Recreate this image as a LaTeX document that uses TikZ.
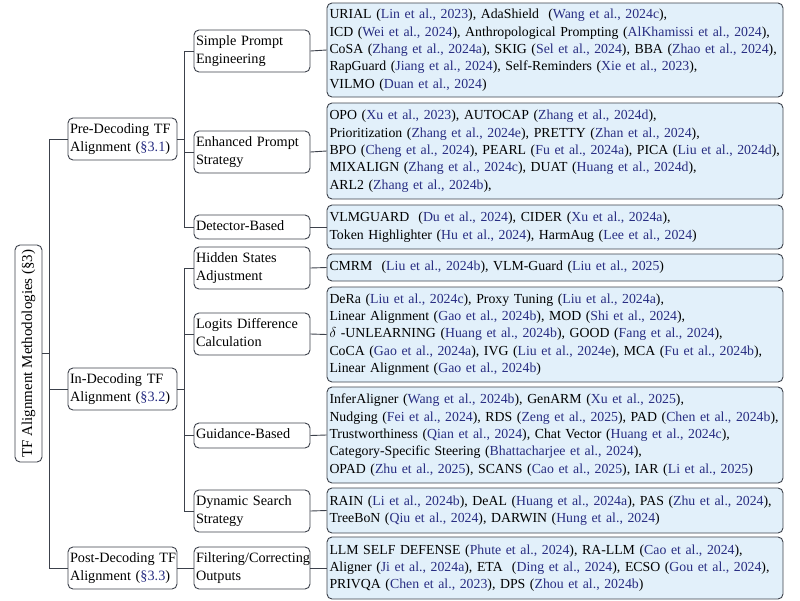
\documentclass[tikz,border=0pt]{standalone}
\usepackage{fontspec}
\setmainfont{Liberation Serif}
\definecolor{citeblue}{RGB}{40,45,130}
\definecolor{leaffill}{RGB}{226,240,250}
\definecolor{edgegray}{RGB}{60,65,75}
\newcommand{\ct}[1]{\textcolor{citeblue}{#1}}
\newcommand{\rows}[1]{\begin{tabular}{@{}l@{}}#1\end{tabular}}
\begin{document}
\begin{tikzpicture}[x=1pt,y=-1pt,
  base/.style={draw=edgegray, line width=0.9pt, rounded corners=5pt, inner xsep=3pt, inner ysep=0pt, font=\fontsize{14.25}{17.3}\selectfont, align=left},
  rootbox/.style={base, fill=white, rotate=90, minimum width=217pt, minimum height=27pt, align=center, font=\fontsize{15}{18}\selectfont},
  lvone/.style={base, fill=white, inner xsep=2pt, text width=105pt, minimum height=42pt},
  lvtwo/.style={base, fill=white, inner xsep=2pt, text width=112pt},
  leaf/.style={base, fill=leaffill, inner xsep=2.5pt, text width=451pt, font=\fontsize{13.8}{17.3}\selectfont},
  link/.style={draw=edgegray, line width=0.9pt}
]
\useasboundingbox (0,0) rectangle (800,600);

\node[rootbox] (root) at (28.5,353.5) {TF Alignment Methodologies (§3)};
\node[lvone] (pre) at (122.5,139) {\rows{Pre-Decoding TF\\Alignment (\ct{§3.1})}};
\node[lvone] (in) at (122.5,389) {\rows{In-Decoding TF\\Alignment (\ct{§3.2})}};
\node[lvone] (post) at (122.5,568) {\rows{Post-Decoding TF\\Alignment (\ct{§3.3})}};

\node[lvtwo, minimum height=42pt] (spe) at (252,51) {\rows{Simple Prompt\\Engineering}};
\node[lvtwo, minimum height=42pt] (eps) at (252,152) {\rows{Enhanced Prompt\\Strategy}};
\node[lvtwo, minimum height=24pt] (det) at (252,227) {\rows{Detector-Based}};
\node[lvtwo, minimum height=42pt] (hsa) at (252,268) {\rows{Hidden States\\Adjustment}};
\node[lvtwo, minimum height=42pt] (ldc) at (252,334) {\rows{Logits Difference\\Calculation}};
\node[lvtwo, minimum height=25pt] (gb) at (252,435.5) {\rows{Guidance-Based}};
\node[lvtwo, minimum height=42pt] (dss) at (252,511) {\rows{Dynamic Search\\Strategy}};
\node[lvtwo, minimum height=42pt] (fco) at (252,568) {\rows{Filtering/Correcting\\Outputs}};

\node[leaf, minimum height=94pt] (l1) at (555,50) {\rows{URIAL (\ct{Lin et al., 2023}), AdaShield\ \ (\ct{Wang et al., 2024c}),\\
ICD (\ct{Wei et al., 2024}), Anthropological Prompting (\ct{AlKhamissi et al., 2024}),\\
CoSA (\ct{Zhang et al., 2024a}), SKIG (\ct{Sel et al., 2024}), BBA (\ct{Zhao et al., 2024}),\\
RapGuard (\ct{Jiang et al., 2024}), Self-Reminders (\ct{Xie et al., 2023}),\\
VILMO (\ct{Duan et al., 2024})}};

\node[leaf, minimum height=96pt] (l2) at (555,151) {\rows{OPO (\ct{Xu et al., 2023}), AUTOCAP (\ct{Zhang et al., 2024d}),\\
Prioritization (\ct{Zhang et al., 2024e}), PRETTY (\ct{Zhan et al., 2024}),\\
BPO (\ct{Cheng et al., 2024}), PEARL (\ct{Fu et al., 2024a}), PICA (\ct{Liu et al., 2024d}),\\
MIXALIGN (\ct{Zhang et al., 2024c}), DUAT (\ct{Huang et al., 2024d}),\\
ARL2 (\ct{Zhang et al., 2024b}),}};

\node[leaf, minimum height=44pt] (l3) at (555,227) {\rows{VLMGUARD\ \ (\ct{Du et al., 2024}), CIDER (\ct{Xu et al., 2024a}),\\
Token Highlighter (\ct{Hu et al., 2024}), HarmAug (\ct{Lee et al., 2024})}};

\node[leaf, minimum height=27pt] (l4) at (555,267.5) {\rows{CMRM\ \ (\ct{Liu et al., 2024b}), VLM-Guard (\ct{Liu et al., 2025})}};

\node[leaf, minimum height=95pt] (l5) at (555,334.5) {\rows{DeRa (\ct{Liu et al., 2024c}), Proxy Tuning (\ct{Liu et al., 2024a}),\\
Linear Alignment (\ct{Gao et al., 2024b}), MOD (\ct{Shi et al., 2024}),\\
$\delta$ -UNLEARNING (\ct{Huang et al., 2024b}), GOOD (\ct{Fang et al., 2024}),\\
CoCA (\ct{Gao et al., 2024a}), IVG (\ct{Liu et al., 2024e}), MCA (\ct{Fu et al., 2024b}),\\
Linear Alignment (\ct{Gao et al., 2024b})}};

\node[leaf, minimum height=96pt] (l6) at (555,435) {\rows{InferAligner (\ct{Wang et al., 2024b}), GenARM (\ct{Xu et al., 2025}),\\
Nudging (\ct{Fei et al., 2024}), RDS (\ct{Zeng et al., 2025}), PAD (\ct{Chen et al., 2024b}),\\
Trustworthiness (\ct{Qian et al., 2024}), Chat Vector (\ct{Huang et al., 2024c}),\\
Category-Specific Steering (\ct{Bhattacharjee et al., 2024}),\\
OPAD (\ct{Zhu et al., 2025}), SCANS (\ct{Cao et al., 2025}), IAR (\ct{Li et al., 2025})}};

\node[leaf, minimum height=45pt] (l7) at (555,510.5) {\rows{RAIN (\ct{Li et al., 2024b}), DeAL (\ct{Huang et al., 2024a}), PAS (\ct{Zhu et al., 2024}),\\
TreeBoN (\ct{Qiu et al., 2024}), DARWIN (\ct{Hung et al., 2024})}};

\node[leaf, minimum height=62pt] (l8) at (555,568) {\rows{LLM SELF DEFENSE (\ct{Phute et al., 2024}), RA-LLM (\ct{Cao et al., 2024}),\\
Aligner (\ct{Ji et al., 2024a}), ETA\ \ (\ct{Ding et al., 2024}), ECSO (\ct{Gou et al., 2024}),\\
PRIVQA (\ct{Chen et al., 2023}), DPS (\ct{Zhou et al., 2024b})}};

\foreach \t in {pre,in,post}
  \draw[link] (root.south) -- ++(7,0) |- (\t.west);
\foreach \t in {spe,eps,det}
  \draw[link] (pre.east) -- ++(7,0) |- (\t.west);
\foreach \t in {hsa,ldc,gb,dss}
  \draw[link] (in.east) -- ++(7,0) |- (\t.west);
\draw[link] (post.east) -- (fco.west);
\draw[link] (spe.east) -- (l1.west);
\draw[link] (eps.east) -- (l2.west);
\draw[link] (det.east) -- (l3.west);
\draw[link] (hsa.east) -- (l4.west);
\draw[link] (ldc.east) -- (l5.west);
\draw[link] (gb.east) -- (l6.west);
\draw[link] (dss.east) -- (l7.west);
\draw[link] (fco.east) -- (l8.west);
\end{tikzpicture}
\end{document}
